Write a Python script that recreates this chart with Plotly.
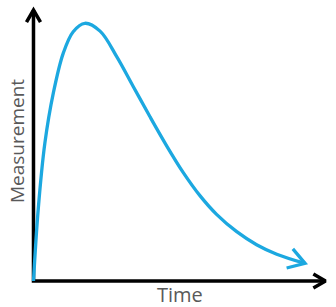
import math
import plotly.graph_objects as go

# ---- data (time, measurement) ----
time = [0.0, 0.16, 0.39, 0.68, 1.02, 1.36, 1.76, 2.28, 2.85, 3.42, 3.99,
        4.56, 5.13, 5.70, 6.27, 6.96, 7.64, 8.33, 9.30]
measurement = [0.0, 2.62, 5.09, 6.94, 8.41, 9.20, 9.51, 9.22, 8.28, 7.17, 6.06,
               4.99, 4.00, 3.15, 2.46, 1.82, 1.34, 0.99, 0.65]
axis_max_time = 10.0
axis_max_measurement = 10.0
x_label = "Time"
y_label = "Measurement"

W, H = 336, 307
X_RANGE = [-1.147, 10.36]
Y_RANGE = [-0.959, 10.369]

SX = W / (X_RANGE[1] - X_RANGE[0])   # px per time unit
SY = H / (Y_RANGE[1] - Y_RANGE[0])   # px per measurement unit

CURVE = "#1ca8e0"
AXIS = "#000000"
TEXT = "#595959"


def chevron(tip, prev, length, half_angle_deg):
    """Return x, y lists for an open arrow head at tip, pointing away from prev."""
    dx = (tip[0] - prev[0]) * SX
    dy = (tip[1] - prev[1]) * SY
    n = math.hypot(dx, dy)
    ux, uy = dx / n, dy / n
    pts = []
    for s in (1, -1):
        a = math.radians(half_angle_deg) * s
        bx = -(ux * math.cos(a) - uy * math.sin(a))
        by = -(ux * math.sin(a) + uy * math.cos(a))
        pts.append((tip[0] + bx * length / SX, tip[1] + by * length / SY))
    xs = [pts[0][0], tip[0], pts[1][0]]
    ys = [pts[0][1], tip[1], pts[1][1]]
    return xs, ys


fig = go.Figure()

# axes
fig.add_trace(go.Scatter(x=[0, 0, axis_max_time], y=[axis_max_measurement, 0, 0],
                         mode="lines", line=dict(color=AXIS, width=3.5),
                         hoverinfo="skip"))
ax_x, ax_y = chevron((0, axis_max_measurement), (0, 0), 14, 30)
fig.add_trace(go.Scatter(x=ax_x, y=ax_y, mode="lines",
                         line=dict(color=AXIS, width=3.5), hoverinfo="skip"))
ax_x, ax_y = chevron((axis_max_time, 0), (0, 0), 14, 30)
fig.add_trace(go.Scatter(x=ax_x, y=ax_y, mode="lines",
                         line=dict(color=AXIS, width=3.5), hoverinfo="skip"))

# curve
fig.add_trace(go.Scatter(x=time, y=measurement, mode="lines",
                         line=dict(color=CURVE, width=3.3, shape="spline", smoothing=1.0),
                         hoverinfo="skip"))
cx, cy = chevron((time[-1], measurement[-1]), (time[-2], measurement[-2]), 19, 32)
fig.add_trace(go.Scatter(x=cx, y=cy, mode="lines",
                         line=dict(color=CURVE, width=3.3), hoverinfo="skip"))

fig.add_annotation(text=x_label, x=180 / W, y=1 - 294.5 / H, xref="paper", yref="paper",
                   showarrow=False, xanchor="center", yanchor="middle",
                   font=dict(family="Open Sans", size=20, color=TEXT))
fig.add_annotation(text=y_label, x=16.5 / W, y=1 - 141.5 / H, xref="paper", yref="paper",
                   showarrow=False, xanchor="center", yanchor="middle", textangle=-90,
                   font=dict(family="Open Sans", size=19, color=TEXT))

fig.update_layout(width=W, height=H, margin=dict(l=0, r=0, t=0, b=0),
                  paper_bgcolor="white", plot_bgcolor="white", showlegend=False,
                  xaxis=dict(range=X_RANGE, visible=False, fixedrange=True),
                  yaxis=dict(range=Y_RANGE, visible=False, fixedrange=True))

fig.write_html("out.html", config={"displayModeBar": False})
